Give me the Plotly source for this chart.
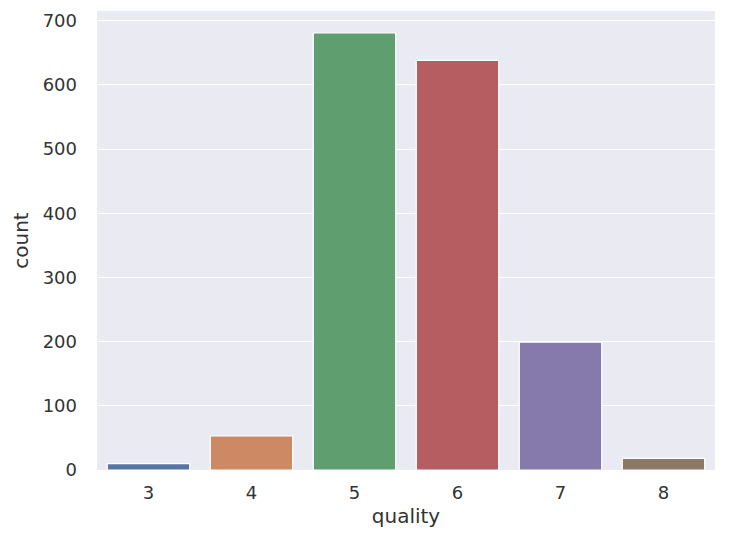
import plotly.graph_objects as go

quality = ["3", "4", "5", "6", "7", "8"]
counts = [10, 53, 681, 638, 199, 18]
colors = ["#5975a4", "#cc8963", "#5f9e6e", "#b55d60", "#857aab", "#8d7866"]

fig = go.Figure(go.Bar(
    x=quality, y=counts, marker_color=colors,
    marker_line_color="white", marker_line_width=1.2, width=0.8,
))
font_color = "#333333"
fig.update_layout(
    width=737, height=535,
    margin=dict(l=89, r=30, t=3, b=73),
    paper_bgcolor="white", plot_bgcolor="#EAEAF2",
    font=dict(family="DejaVu Sans", size=18, color=font_color),
    showlegend=False,
)
fig.update_xaxes(
    title=dict(text="quality", font=dict(size=20), standoff=6),
    showgrid=False, zeroline=False, ticks="", tickfont=dict(size=18),
    ticklabelstandoff=10,
    range=[-0.5, 5.5],
)
fig.update_yaxes(
    title=dict(text="count", font=dict(size=20), standoff=8),
    range=[0, 715.05], tickvals=[0, 100, 200, 300, 400, 500, 600, 700],
    gridcolor="white", gridwidth=1.3, zeroline=False, ticks="",
    tickfont=dict(size=18), ticklabelstandoff=19,
)
fig.write_html("out.html")
